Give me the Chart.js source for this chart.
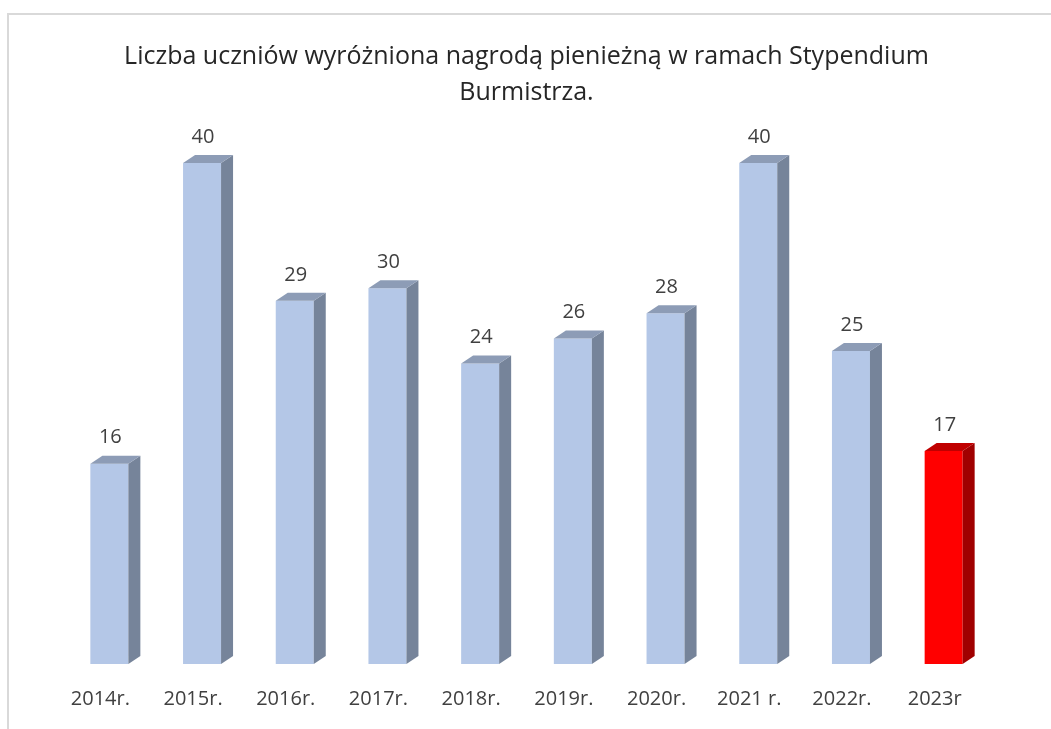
<!DOCTYPE html>
<html>
<head>
<meta charset="utf-8">
<script src="https://cdn.jsdelivr.net/npm/chart.js@4"></script>
<style>
  html, body { margin: 0; padding: 0; background: #fff; overflow: hidden; }
  #frame { position: absolute; left: 7px; top: 13px; width: 1100px; height: 800px; border: 2px solid #d9d9d9; }
  #wykres { position: absolute; left: 0; top: 0; }
</style>
</head>
<body>
<div id="frame"></div>
<canvas id="wykres" width="1051" height="729"></canvas>
<script>
var lata = ['2014r.', '2015r.', '2016r.', '2017r.', '2018r.', '2019r.', '2020r.', '2021 r.', '2022r.', '2023r'];
var uczniowie = [16, 40, 29, 30, 24, 26, 28, 40, 25, 17];
var tytul = ['Liczba uczniów wyróżniona nagrodą pienieżną w ramach Stypendium', 'Burmistrza.'];

// kolory: front, bok, góra
var niebieski = ['#b4c7e7', '#76849a', '#8d9cb6'];
var czerwony = ['#ff0000', '#a00000', '#c00000'];
function kolor(i) { return i === lata.length - 1 ? czerwony : niebieski; }

// efekt 3D: bok i góra słupka
var slupki3d = {
    id: 'slupki3d',
    afterDatasetsDraw: function (chart) {
        var ctx = chart.ctx;
        var dx = 12, dy = -8;
        chart.getDatasetMeta(0).data.forEach(function (bar, i) {
            var p = bar.getProps(['x', 'y', 'base', 'width'], true);
            var l = p.x - p.width / 2, r = p.x + p.width / 2;
            var c = kolor(i);
            ctx.save();
            ctx.fillStyle = c[1];
            ctx.beginPath();
            ctx.moveTo(r, p.y);
            ctx.lineTo(r + dx, p.y + dy);
            ctx.lineTo(r + dx, p.base + dy);
            ctx.lineTo(r, p.base);
            ctx.closePath();
            ctx.fill();
            ctx.fillStyle = c[2];
            ctx.beginPath();
            ctx.moveTo(l, p.y);
            ctx.lineTo(l + dx, p.y + dy);
            ctx.lineTo(r + dx, p.y + dy);
            ctx.lineTo(r, p.y);
            ctx.closePath();
            ctx.fill();
            // etykieta wartości
            ctx.fillStyle = '#404040';
            ctx.font = '20px "Open Sans"';
            ctx.textAlign = 'center';
            ctx.textBaseline = 'middle';
            ctx.fillText(uczniowie[i], p.x + 1, p.y - 26);
            ctx.restore();
        });
    }
};

var chart = new Chart(document.getElementById('wykres').getContext('2d'), {
    type: 'bar',
    data: {
        labels: lata,
        datasets: [{
            data: uczniowie,
            backgroundColor: uczniowie.map(function (v, i) { return kolor(i)[0]; }),
            borderWidth: 0,
            categoryPercentage: 1,
            barPercentage: 0.41
        }]
    },
    options: {
        responsive: false,
        animation: false,
        layout: { padding: { left: 63, right: 61, top: 0, bottom: 3 } },
        plugins: {
            legend: { display: false },
            tooltip: { enabled: false },
            title: {
                display: true,
                text: tytul,
                color: '#262626',
                font: { family: 'Open Sans', size: 25, weight: 'normal', lineHeight: 1.44 },
                padding: { top: 39, bottom: 2 }
            }
        },
        scales: {
            y: { display: false, min: 0, max: 44 },
            x: {
                grid: { display: false },
                border: { display: false },
                ticks: {
                    color: '#404040',
                    font: { family: 'Open Sans', size: 20 },
                    padding: 15,
                    labelOffset: -9,
                    maxRotation: 0
                }
            }
        }
    },
    plugins: [slupki3d]
});
</script>
</body>
</html>
